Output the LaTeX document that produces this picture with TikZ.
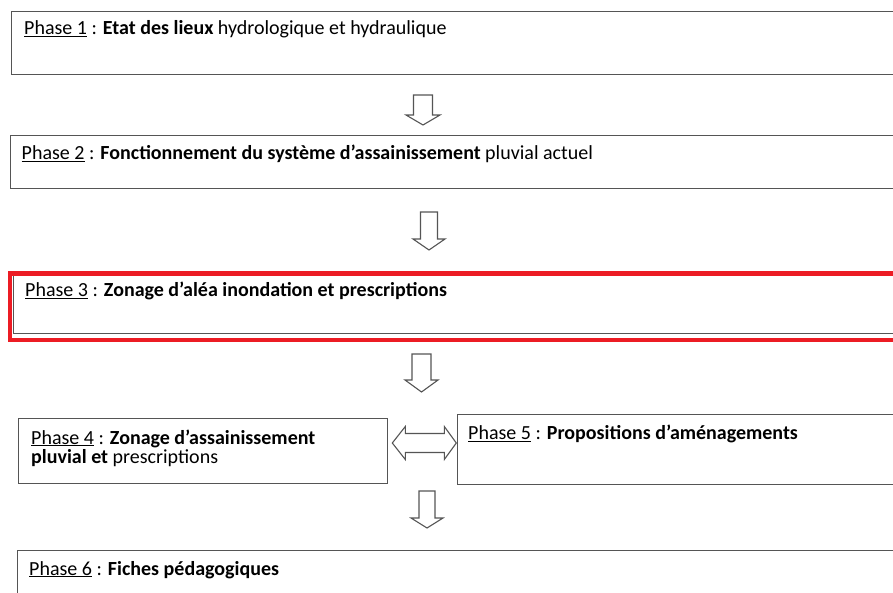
\documentclass[tikz,border=0pt]{standalone}
\usepackage{fontspec}
\setmainfont{Carlito}
\definecolor{boxgray}{HTML}{555555}
\definecolor{boxred}{HTML}{EC1C24}
\begin{document}
\begin{tikzpicture}[x=1pt,y=-1pt,
  box/.style={draw=boxgray, line width=1.3pt, inner sep=0pt, anchor=north west},
  redbox/.style={draw=boxred, line width=4.5pt, inner sep=0pt, anchor=north west},
  txt/.style={anchor=base west, inner sep=0pt, font=\fontsize{20}{23}\selectfont},
  blockarrow/.style={draw=boxgray, line width=1.1pt, line join=miter, fill=white}]
\clip (0,0) rectangle (893,593);
\fill[white] (0,0) rectangle (893,593);
% boxes
\node[box, minimum width=900pt, minimum height=63pt] (b1) at (11,11) {};
\node[box, minimum width=900pt, minimum height=53pt] (b2) at (10,135) {};
\node[box, minimum width=900pt, minimum height=60pt] (b3) at (13,273) {};
\node[redbox, minimum width=900pt, minimum height=66pt] (r3) at (7.5,271.5) {};
\node[box, minimum width=369pt, minimum height=65pt] (b4) at (18,418) {};
\node[box, minimum width=450pt, minimum height=70pt] (b5) at (456.5,414) {};
\node[box, minimum width=900pt, minimum height=60pt] (b6) at (16.5,550) {};
% texts
\node[txt] (t1) at (24,35) {\underline{Phase 1} : \textbf{Etat des lieux} hydrologique et hydraulique};
\node[txt] (t2) at (21.5,160) {\underline{Phase 2} : \textbf{Fonctionnement du système d’assainissement} pluvial actuel};
\node[txt] (t3) at (25,297) {\underline{Phase 3} : \textbf{Zonage d’aléa inondation et prescriptions}};
\node[txt] (t4a) at (31,444) {\underline{Phase 4} : \textbf{Zonage d’assainissement}};
\node[txt] (t4b) at (31,463) {\textbf{pluvial et} prescriptions};
\node[txt] (t5) at (468,439.5) {\underline{Phase 5} : \textbf{Propositions d’aménagements}};
\node[txt] (t6) at (29,575) {\underline{Phase 6} : \textbf{Fiches pédagogiques}};
% down block arrows
\coordinate (a1) at (423,95);
\coordinate (a2) at (429,212);
\coordinate (a3) at (421.5,354);
\coordinate (a4) at (427,491);
\draw[blockarrow] (a1) ++(-9.5,0) -- ++(19,0) -- ++(0,20) -- ++(7.5,0) -- ++(-17,10) -- ++(-17,-10) -- ++(7.5,0) -- cycle;
\draw[blockarrow] (a2) ++(-8.5,0) -- ++(17,0) -- ++(0,27) -- ++(7.5,0) -- ++(-16,11) -- ++(-16,-11) -- ++(7.5,0) -- cycle;
\draw[blockarrow] (a3) ++(-9.5,0) -- ++(19,0) -- ++(0,26) -- ++(7,0) -- ++(-16.5,12) -- ++(-16.5,-12) -- ++(7,0) -- cycle;
\draw[blockarrow] (a4) ++(-8,0) -- ++(16,0) -- ++(0,27) -- ++(8,0) -- ++(-16,10) -- ++(-16,-10) -- ++(8,0) -- cycle;
% double block arrow between b4 and b5
\coordinate (dl) at (b4.east |- 0,443);
\coordinate (dr) at (b5.west |- 0,443);
\draw[blockarrow] (dl) ++(4,0) -- ++(13,-16.5) -- ++(0,7) -- ++(39,0) -- ++(0,-7) -- ++(12,16.5) -- ++(-12,16.5) -- ++(0,-7) -- ++(-39,0) -- ++(0,7) -- cycle;
\end{tikzpicture}
\end{document}
